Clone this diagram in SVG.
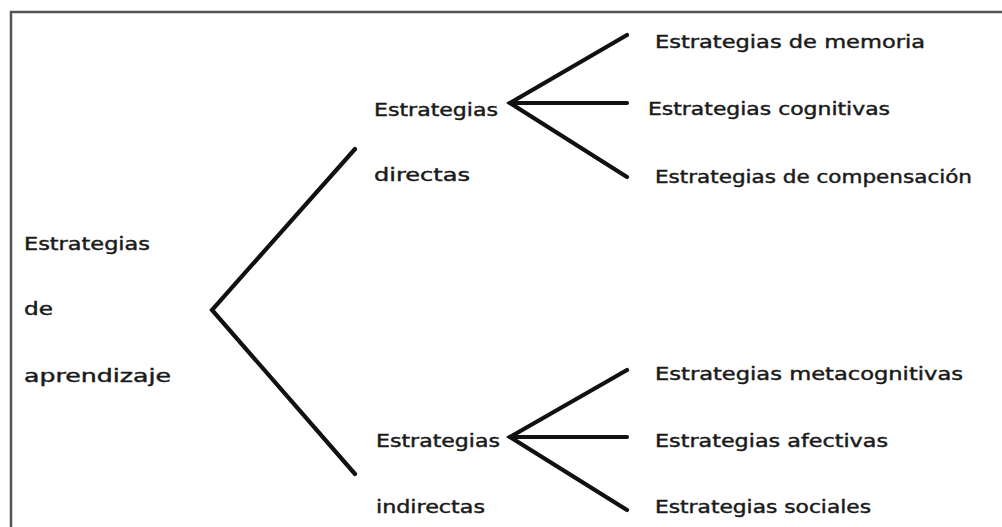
<svg xmlns="http://www.w3.org/2000/svg" width="1002" height="527" viewBox="0 0 1002 527">
<style>
text{font-family:"DejaVu Sans","Liberation Sans",sans-serif;font-size:18.5px;fill:#1a1a1a;stroke:#1a1a1a;stroke-width:0.45px;}
.ln{stroke:#111;stroke-width:4.2;fill:none;stroke-linecap:round;stroke-linejoin:miter;}
.frame{stroke:#555;stroke-width:2.5;fill:none;}
</style>
<rect width="1002" height="527" fill="#fff"/>
<path class="frame" d="M11,527 V12 H1002"/>
<g id="connectors">
<polyline class="ln" points="355,149 212,310 355,474"/>
<polyline class="ln" points="627,35 510,103 627,177"/>
<line class="ln" x1="510" y1="103" x2="627" y2="103"/>
<polyline class="ln" points="627,370 510,437 627,510"/>
<line class="ln" x1="510" y1="437" x2="627" y2="437"/>
</g>
<g id="root"><text x="24" y="250" textLength="126" lengthAdjust="spacingAndGlyphs">Estrategias</text><text x="24" y="315" textLength="29" lengthAdjust="spacingAndGlyphs">de</text><text x="24" y="382" textLength="147" lengthAdjust="spacingAndGlyphs">aprendizaje</text></g>
<g id="directas"><text x="374" y="116" textLength="124" lengthAdjust="spacingAndGlyphs">Estrategias</text><text x="374" y="181" textLength="96" lengthAdjust="spacingAndGlyphs">directas</text></g>
<g id="indirectas"><text x="376" y="447" textLength="124" lengthAdjust="spacingAndGlyphs">Estrategias</text><text x="376" y="513" textLength="109" lengthAdjust="spacingAndGlyphs">indirectas</text></g>
<g id="memoria"><text x="655" y="48" textLength="270" lengthAdjust="spacingAndGlyphs">Estrategias de memoria</text></g>
<g id="cognitivas"><text x="648" y="115" textLength="242" lengthAdjust="spacingAndGlyphs">Estrategias cognitivas</text></g>
<g id="compensacion"><text x="655" y="183" textLength="317" lengthAdjust="spacingAndGlyphs">Estrategias de compensación</text></g>
<g id="metacognitivas"><text x="655" y="380" textLength="308" lengthAdjust="spacingAndGlyphs">Estrategias metacognitivas</text></g>
<g id="afectivas"><text x="655" y="447" textLength="233" lengthAdjust="spacingAndGlyphs">Estrategias afectivas</text></g>
<g id="sociales"><text x="655" y="513" textLength="216" lengthAdjust="spacingAndGlyphs">Estrategias sociales</text></g>
</svg>
